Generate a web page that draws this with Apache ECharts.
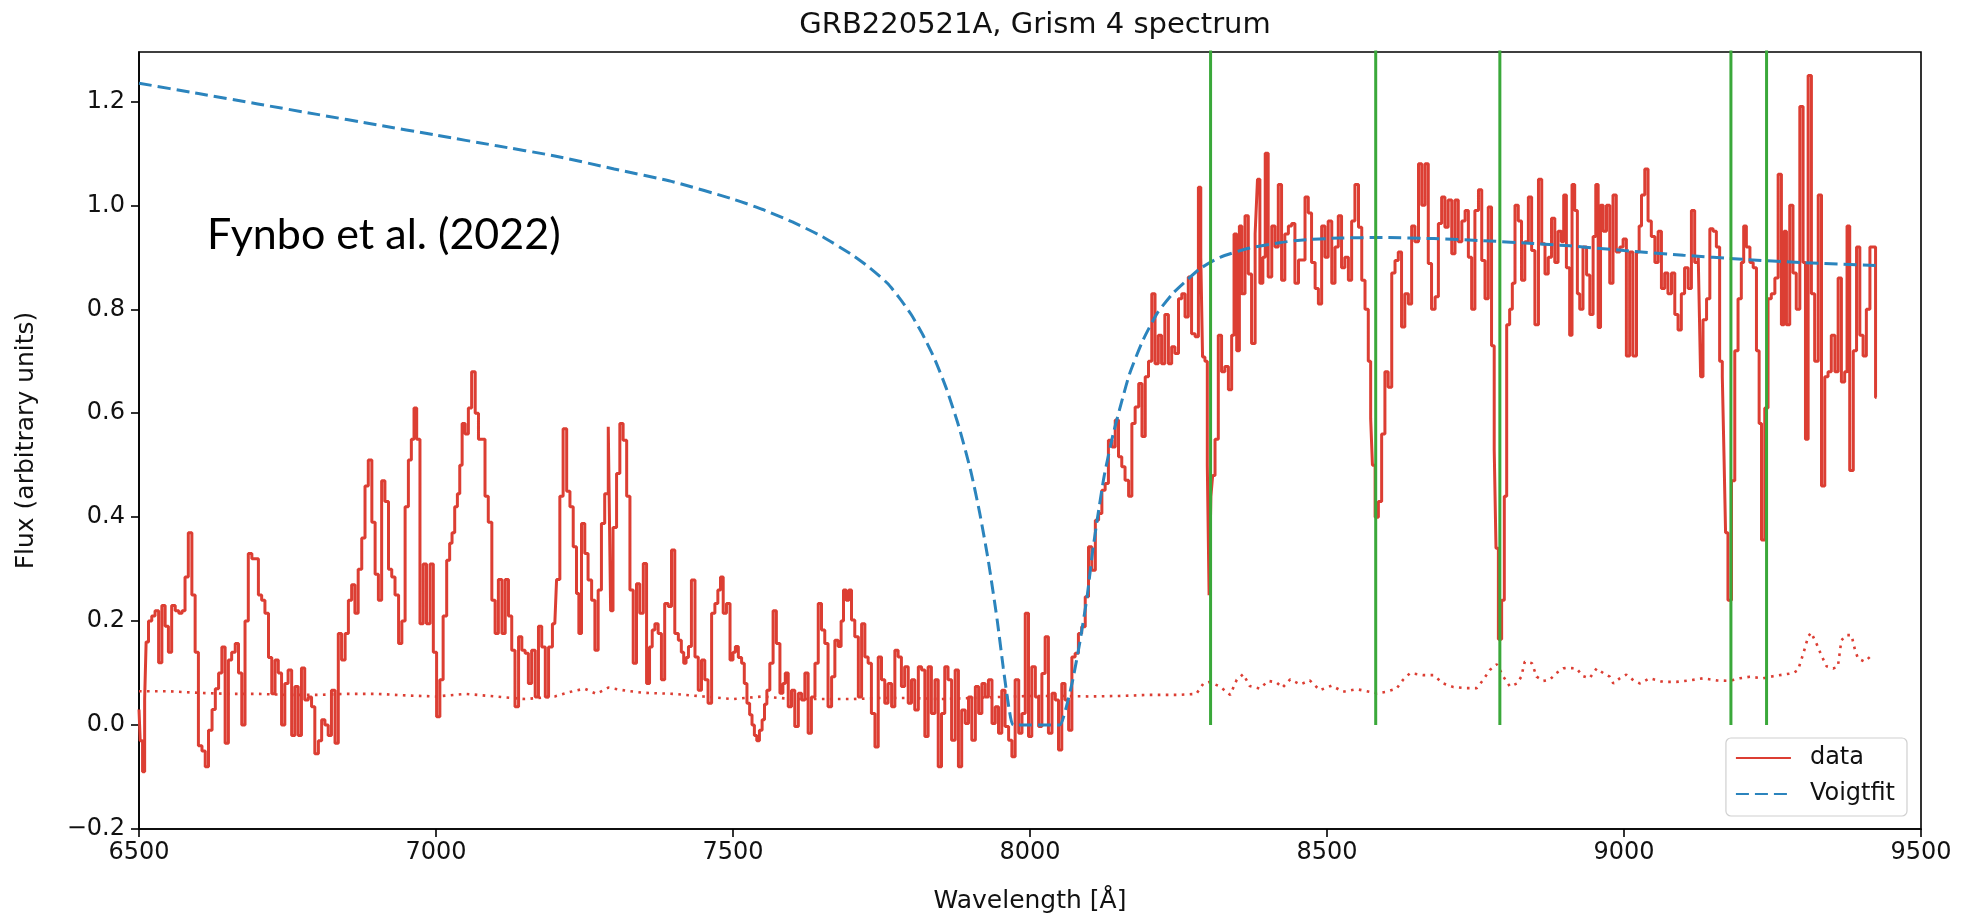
<!DOCTYPE html>
<html>
<head>
<meta charset="utf-8">
<script src="https://cdn.jsdelivr.net/npm/echarts@6/dist/echarts.min.js"></script>
<style>
html,body{margin:0;padding:0;background:#fff;}
#chart{width:1967px;height:914px;}
</style>
</head>
<body>
<div id="chart"></div>
<script>
// ---------------- data ----------------
const titleText = 'GRB220521A, Grism 4 spectrum';
const xLabel = 'Wavelength [Å]';
const yLabel = 'Flux (arbitrary units)';
const annotation = 'Fynbo et al. (2022)';
const xTicks = [6500, 7000, 7500, 8000, 8500, 9000, 9500];
const yTicks = [-0.2, 0.0, 0.2, 0.4, 0.6, 0.8, 1.0, 1.2];
const absorptionLines = [8304, 8582, 8791, 9180, 9240];

// observed spectrum [wavelength, flux]
const spectrum = [
[6500,0.03],[6504,-0.03],[6508,-0.09],[6511,0.05],[6513,0.16],[6519,0.2],[6524,0.21],[6530,0.22],[6536,0.12],[6541,0.23],[6547,0.19],[6552,0.14],[6558,0.23],[6564,0.22],[6570,0.215],[6575,0.22],[6580,0.285],[6586,0.37],[6592,0.25],[6597,0.14],[6603,-0.04],[6609,-0.05],[6614,-0.08],[6620,-0.01],[6626,0.03],[6631,0.07],[6637,0.1],[6642,0.15],[6648,-0.035],[6653,0.125],[6659,0.14],[6665,0.157],[6670,0.1],[6676,0.0],[6681,0.2],[6687,0.33],[6693,0.32],[6698,0.32],[6704,0.25],[6709,0.24],[6715,0.215],[6721,0.13],[6726,0.06],[6732,0.125],[6737,0.1],[6743,0.0],[6748,0.08],[6754,0.106],[6760,-0.02],[6765,0.074],[6771,-0.02],[6776,0.11],[6782,0.048],[6788,0.054],[6793,0.035],[6799,-0.055],[6805,-0.03],[6810,0.01],[6816,0.0],[6821,-0.02],[6827,0.067],[6833,-0.035],[6838,0.176],[6844,0.125],[6850,0.176],[6855,0.24],[6861,0.27],[6866,0.215],[6872,0.3],[6878,0.36],[6883,0.46],[6889,0.51],[6895,0.39],[6900,0.29],[6906,0.24],[6911,0.47],[6917,0.43],[6923,0.3],[6928,0.285],[6934,0.25],[6940,0.157],[6945,0.2],[6951,0.42],[6956,0.51],[6961,0.55],[6965,0.61],[6970,0.55],[6976,0.195],[6981,0.31],[6987,0.195],[6993,0.31],[6998,0.14],[7004,0.016],[7009,0.087],[7015,0.21],[7021,0.317],[7025,0.35],[7029,0.37],[7034,0.42],[7038,0.445],[7042,0.5],[7046,0.58],[7052,0.56],[7057,0.61],[7063,0.68],[7069,0.6],[7074,0.55],[7080,0.55],[7085,0.44],[7091,0.39],[7097,0.24],[7102,0.176],[7108,0.28],[7114,0.176],[7119,0.28],[7125,0.21],[7130,0.144],[7136,0.035],[7142,0.17],[7147,0.144],[7153,0.138],[7158,0.08],[7164,0.144],[7170,0.054],[7175,0.19],[7181,0.15],[7187,0.054],[7192,0.15],[7200,0.195],[7206,0.28],[7211,0.44],[7217,0.57],[7223,0.45],[7228,0.42],[7234,0.343],[7239,0.253],[7242,0.176],[7248,0.388],[7253,0.33],[7259,0.279],[7265,0.24],[7270,0.144],[7276,0.26],[7281,0.388],[7287,0.445],[7293,0.574],[7295,0.22],[7301,0.38],[7307,0.484],[7312,0.58],[7318,0.548],[7324,0.44],[7329,0.26],[7335,0.119],[7340,0.272],[7346,0.215],[7352,0.311],[7357,0.08],[7362,0.15],[7366,0.183],[7371,0.195],[7377,0.176],[7382,0.087],[7388,0.234],[7394,0.228],[7399,0.337],[7405,0.176],[7411,0.163],[7415,0.14],[7419,0.119],[7423,0.13],[7427,0.151],[7433,0.279],[7439,0.131],[7444,0.067],[7450,0.125],[7455,0.087],[7461,0.042],[7467,0.215],[7472,0.234],[7477,0.26],[7481,0.285],[7486,0.215],[7492,0.234],[7498,0.125],[7502,0.14],[7506,0.151],[7512,0.13],[7517,0.119],[7521,0.08],[7526,0.042],[7530,0.02],[7534,0.0],[7538,-0.02],[7542,-0.03],[7547,-0.01],[7551,0.01],[7555,0.04],[7559,0.067],[7565,0.119],[7570,0.22],[7576,0.157],[7582,0.061],[7586,0.08],[7590,0.1],[7596,0.035],[7601,0.067],[7607,-0.003],[7613,0.061],[7618,0.048],[7624,0.1],[7629,-0.016],[7635,0.054],[7641,0.119],[7646,0.234],[7652,0.183],[7657,0.157],[7663,0.035],[7669,0.093],[7674,0.163],[7680,0.151],[7684,0.2],[7688,0.26],[7693,0.24],[7697,0.26],[7702,0.202],[7708,0.17],[7714,0.054],[7719,0.195],[7725,0.131],[7730,0.119],[7736,0.022],[7742,-0.042],[7747,0.131],[7753,0.087],[7758,0.042],[7764,0.08],[7770,0.035],[7775,0.144],[7781,0.131],[7786,0.074],[7792,0.112],[7798,0.042],[7803,0.087],[7809,0.029],[7815,0.112],[7820,0.106],[7826,-0.022],[7831,0.112],[7837,0.022],[7843,0.087],[7848,-0.08],[7854,0.022],[7859,0.112],[7865,0.087],[7871,-0.029],[7877,0.106],[7882,-0.08],[7888,0.029],[7894,0.003],[7899,0.054],[7905,-0.029],[7911,0.074],[7916,0.022],[7922,0.08],[7927,0.054],[7933,0.087],[7939,0.003],[7944,0.035],[7950,-0.016],[7955,0.067],[7961,-0.003],[7967,-0.029],[7972,-0.061],[7978,0.087],[7984,-0.016],[7989,0.022],[7995,0.215],[8000,-0.022],[8006,0.112],[8012,0.054],[8017,-0.003],[8023,0.099],[8028,0.17],[8034,-0.016],[8040,0.061],[8045,0.048],[8051,-0.048],[8056,0.08],[8062,0.048],[8068,-0.01],[8073,0.131],[8079,0.138],[8084,0.176],[8090,0.189],[8096,0.247],[8101,0.343],[8107,0.298],[8113,0.394],[8118,0.407],[8124,0.452],[8129,0.465],[8135,0.548],[8141,0.535],[8146,0.587],[8152,0.516],[8157,0.497],[8163,0.471],[8169,0.44],[8174,0.58],[8180,0.612],[8186,0.657],[8191,0.555],[8197,0.67],[8202,0.7],[8208,0.83],[8213,0.695],[8219,0.75],[8224,0.695],[8230,0.79],[8236,0.695],[8241,0.728],[8247,0.715],[8253,0.82],[8258,0.83],[8264,0.785],[8269,0.862],[8275,0.753],[8281,0.747],[8286,1.035],[8289,0.9],[8292,0.708],[8297,0.7],[8300,0.5],[8303,0.25],[8306,0.44],[8309,0.48],[8314,0.55],[8320,0.75],[8325,0.68],[8331,0.69],[8337,0.645],[8342,0.75],[8345,0.945],[8351,0.72],[8354,0.96],[8359,0.83],[8365,0.98],[8370,0.868],[8376,0.734],[8382,0.945],[8384,1.05],[8390,0.85],[8394,0.9],[8398,1.1],[8404,0.862],[8410,0.96],[8415,0.92],[8421,1.04],[8426,0.856],[8432,0.945],[8438,0.96],[8443,0.965],[8449,0.85],[8455,0.895],[8460,0.895],[8466,1.016],[8471,0.985],[8477,0.89],[8483,0.84],[8488,0.81],[8494,0.96],[8499,0.9],[8505,0.97],[8511,0.85],[8516,0.92],[8522,0.98],[8527,0.88],[8533,0.9],[8539,0.856],[8544,0.97],[8550,1.04],[8556,0.958],[8561,0.856],[8567,0.8],[8572,0.7],[8575,0.59],[8578,0.5],[8584,0.4],[8589,0.43],[8595,0.56],[8600,0.68],[8606,0.65],[8612,0.87],[8617,0.894],[8623,0.91],[8628,0.766],[8634,0.83],[8640,0.81],[8645,0.96],[8651,0.93],[8657,1.08],[8662,1.0],[8668,1.08],[8673,0.888],[8679,0.8],[8685,0.824],[8690,0.965],[8696,1.016],[8701,0.958],[8707,1.01],[8713,0.907],[8718,1.01],[8724,0.93],[8730,0.97],[8735,0.99],[8741,0.9],[8746,0.8],[8752,0.99],[8758,1.03],[8763,0.894],[8769,0.82],[8774,0.997],[8780,0.73],[8783,0.53],[8786,0.34],[8791,0.165],[8797,0.24],[8800,0.44],[8805,0.77],[8810,0.8],[8814,0.85],[8819,1.0],[8825,0.97],[8830,0.856],[8836,0.93],[8842,1.016],[8847,0.913],[8853,0.77],[8859,1.05],[8864,0.926],[8870,0.868],[8875,0.9],[8881,0.975],[8886,0.89],[8892,0.95],[8897,0.93],[8900,1.02],[8906,0.88],[8911,0.75],[8914,1.04],[8920,0.99],[8923,0.83],[8928,0.8],[8934,0.92],[8940,0.866],[8945,0.79],[8951,0.94],[8954,1.04],[8959,0.765],[8962,1.0],[8968,0.95],[8973,1.0],[8979,0.85],[8984,1.02],[8990,0.91],[8996,0.92],[9001,0.935],[9007,0.71],[9012,0.91],[9018,0.71],[9024,0.91],[9027,0.96],[9032,1.02],[9038,1.07],[9043,0.97],[9049,0.94],[9055,0.89],[9060,0.95],[9066,0.84],[9071,0.87],[9077,0.83],[9083,0.87],[9088,0.79],[9094,0.76],[9099,0.83],[9105,0.88],[9111,0.84],[9116,0.99],[9122,0.89],[9128,0.9],[9130,0.67],[9136,0.78],[9142,0.82],[9147,0.955],[9153,0.95],[9158,0.92],[9164,0.7],[9167,0.67],[9170,0.51],[9172,0.37],[9178,0.24],[9184,0.47],[9189,0.72],[9195,0.82],[9200,0.89],[9203,0.96],[9209,0.92],[9215,0.89],[9220,0.88],[9226,0.72],[9229,0.58],[9234,0.356],[9240,0.61],[9245,0.82],[9251,0.83],[9257,0.86],[9262,1.06],[9268,0.77],[9271,0.95],[9276,0.77],[9282,1.0],[9287,0.87],[9293,0.8],[9299,1.19],[9304,0.89],[9307,0.55],[9313,1.25],[9318,0.83],[9324,0.7],[9330,1.02],[9335,0.46],[9341,0.67],[9346,0.68],[9352,0.75],[9358,0.68],[9363,0.86],[9369,0.66],[9374,0.68],[9377,0.96],[9383,0.49],[9389,0.72],[9394,0.92],[9400,0.75],[9405,0.71],[9411,0.8],[9417,0.92],[9422,0.92],[9425,0.63]
];

// error spectrum (dotted) [wavelength, error]
const errorSpectrum = [
[6500,0.065],[6550,0.065],[6600,0.062],[6650,0.06],[6700,0.06],[6750,0.058],[6800,0.058],[6850,0.06],[6900,0.06],[6950,0.057],[7000,0.055],[7050,0.06],[7100,0.055],[7150,0.05],[7200,0.055],[7230,0.065],[7250,0.07],[7270,0.06],[7290,0.072],[7320,0.066],[7350,0.062],[7400,0.06],[7450,0.055],[7500,0.05],[7550,0.055],[7600,0.05],[7650,0.05],[7700,0.05],[7750,0.052],[7800,0.052],[7850,0.05],[7900,0.052],[7950,0.054],[8000,0.056],[8050,0.056],[8100,0.055],[8150,0.056],[8200,0.058],[8250,0.058],[8280,0.06],[8292,0.08],[8302,0.083],[8320,0.074],[8337,0.058],[8348,0.087],[8359,0.098],[8370,0.075],[8387,0.07],[8401,0.085],[8415,0.082],[8425,0.072],[8438,0.088],[8455,0.078],[8471,0.086],[8488,0.067],[8508,0.076],[8527,0.064],[8550,0.069],[8572,0.064],[8584,0.061],[8600,0.064],[8617,0.07],[8628,0.087],[8640,0.1],[8662,0.096],[8679,0.096],[8696,0.08],[8713,0.073],[8735,0.071],[8752,0.071],[8763,0.087],[8774,0.106],[8786,0.117],[8797,0.093],[8808,0.074],[8820,0.08],[8827,0.093],[8833,0.122],[8845,0.119],[8853,0.093],[8864,0.085],[8875,0.087],[8886,0.1],[8898,0.109],[8903,0.11],[8920,0.109],[8931,0.094],[8942,0.09],[8954,0.109],[8965,0.1],[8976,0.093],[8982,0.08],[8993,0.09],[9004,0.097],[9016,0.086],[9027,0.08],[9043,0.09],[9066,0.083],[9088,0.083],[9111,0.086],[9133,0.09],[9156,0.086],[9178,0.085],[9195,0.09],[9212,0.093],[9234,0.09],[9251,0.094],[9268,0.097],[9285,0.1],[9293,0.106],[9302,0.138],[9310,0.17],[9315,0.178],[9324,0.157],[9332,0.135],[9341,0.113],[9352,0.109],[9360,0.112],[9366,0.163],[9374,0.173],[9383,0.173],[9389,0.144],[9394,0.128],[9405,0.122],[9414,0.131],[9420,0.13]
];

// Voigt profile fit [wavelength, flux]
const voigtFit = [
[6500,1.235],[6600,1.215],[6700,1.195],[6800,1.175],[6900,1.155],[7000,1.135],[7100,1.115],[7200,1.095],[7300,1.07],[7400,1.045],[7500,1.012],[7550,0.992],[7600,0.968],[7650,0.94],[7700,0.905],[7730,0.88],[7760,0.85],[7780,0.822],[7800,0.79],[7820,0.75],[7840,0.703],[7860,0.645],[7880,0.575],[7900,0.49],[7915,0.41],[7930,0.315],[7945,0.2],[7955,0.11],[7965,0.03],[7972,0.0],[8000,0.0],[8030,0.0],[8050,0.0],[8060,0.03],[8072,0.087],[8084,0.16],[8096,0.246],[8105,0.33],[8113,0.394],[8125,0.48],[8140,0.56],[8155,0.625],[8168,0.677],[8190,0.74],[8214,0.792],[8240,0.83],[8264,0.856],[8286,0.878],[8320,0.9],[8370,0.918],[8420,0.928],[8455,0.933],[8520,0.937],[8594,0.938],[8680,0.936],[8763,0.932],[8840,0.927],[8909,0.922],[9000,0.913],[9100,0.904],[9200,0.896],[9300,0.89],[9425,0.884]
];

// ---------------- chart ----------------
const RED = '#dc3e33';
const BLUE = '#2b84bd';
const GREEN = '#3aa83a';
const FONT = 'DejaVu Sans';

const chart = echarts.init(document.getElementById('chart'), null, {renderer: 'canvas'});

const fmtY = v => {
  const s = Math.abs(v).toFixed(1);
  return (v < -1e-9 ? '\u2212' : '') + s;
};

const series = [
  {
    name: 'data', type: 'line', step: 'middle', data: spectrum,
    symbol: 'none', z: 2,
    lineStyle: {color: RED, width: 3}, itemStyle: {color: RED}
  },
  {
    name: 'error', type: 'line', data: errorSpectrum,
    symbol: 'none', z: 2,
    lineStyle: {color: RED, width: 2.6, type: [2.6, 5.4]}, itemStyle: {color: RED}
  },
  {
    name: 'Voigtfit', type: 'line', data: voigtFit, smooth: 0.2,
    symbol: 'none', z: 3,
    lineStyle: {color: BLUE, width: 3, type: [13, 6]}, itemStyle: {color: BLUE}
  }
];
absorptionLines.forEach((x, i) => {
  series.push({
    name: 'line' + i, type: 'line', data: [[x, 0], [x, 1.4]],
    symbol: 'none', z: 4, clip: true,
    lineStyle: {color: GREEN, width: 3}, itemStyle: {color: GREEN}
  });
});

chart.setOption({
  animation: false,
  backgroundColor: '#fff',
  title: {
    text: titleText, left: 1030, top: 6, textAlign: 'center',
    textStyle: {fontFamily: FONT, fontSize: 29, fontWeight: 'normal', color: '#111'}
  },
  grid: {
    left: 139, right: 46, top: 52, bottom: 85,
    show: true, borderColor: '#000', borderWidth: 1.6, backgroundColor: 'transparent',
    outerBoundsMode: 'none'
  },
  legend: {
    data: ['data', 'Voigtfit'],
    orient: 'vertical', right: 60, bottom: 98,
    itemWidth: 55, itemHeight: 14, itemGap: 12,
    padding: [8, 12, 10, 9],
    backgroundColor: 'rgba(255,255,255,0.85)',
    borderColor: '#d0d0d0', borderWidth: 1.2, borderRadius: 5,
    itemStyle: {color: 'rgba(0,0,0,0)', borderColor: 'rgba(0,0,0,0)', borderWidth: 0, opacity: 0},
    textStyle: {fontFamily: FONT, fontSize: 24, color: '#111', padding: [0, 0, 0, 14]}
  },
  graphic: [{
    type: 'text', left: 207, top: 214, z: 10,
    style: {text: annotation, font: '43px Lato', fill: '#000'}
  }],
  xAxis: {
    type: 'value', min: 6500, max: 9500, interval: 500,
    name: xLabel, nameLocation: 'middle', nameGap: 60,
    nameTextStyle: {fontFamily: FONT, fontSize: 25, color: '#111'},
    axisLine: {show: true, onZero: false, lineStyle: {color: '#000', width: 1.6}},
    axisTick: {show: true, length: 8, lineStyle: {color: '#000', width: 1.6}},
    axisLabel: {fontFamily: FONT, fontSize: 24, color: '#111', margin: 12,
      customValues: xTicks, formatter: v => String(v)},
    splitLine: {show: false}
  },
  yAxis: {
    type: 'value', min: -0.2, max: 1.295, interval: 0.2,
    name: yLabel, nameLocation: 'middle', nameGap: 100,
    nameTextStyle: {fontFamily: FONT, fontSize: 25, color: '#111'},
    axisLine: {show: true, onZero: false, lineStyle: {color: '#000', width: 1.6}},
    axisTick: {show: true, length: 8, customValues: yTicks, lineStyle: {color: '#000', width: 1.6}},
    axisLabel: {fontFamily: FONT, fontSize: 24, color: '#111', margin: 14,
      customValues: yTicks,
      formatter: v => (Math.abs(v * 5 - Math.round(v * 5)) > 1e-6 ? '' : fmtY(v))},
    splitLine: {show: false}
  },
  series: series
});
</script>
</body>
</html>
